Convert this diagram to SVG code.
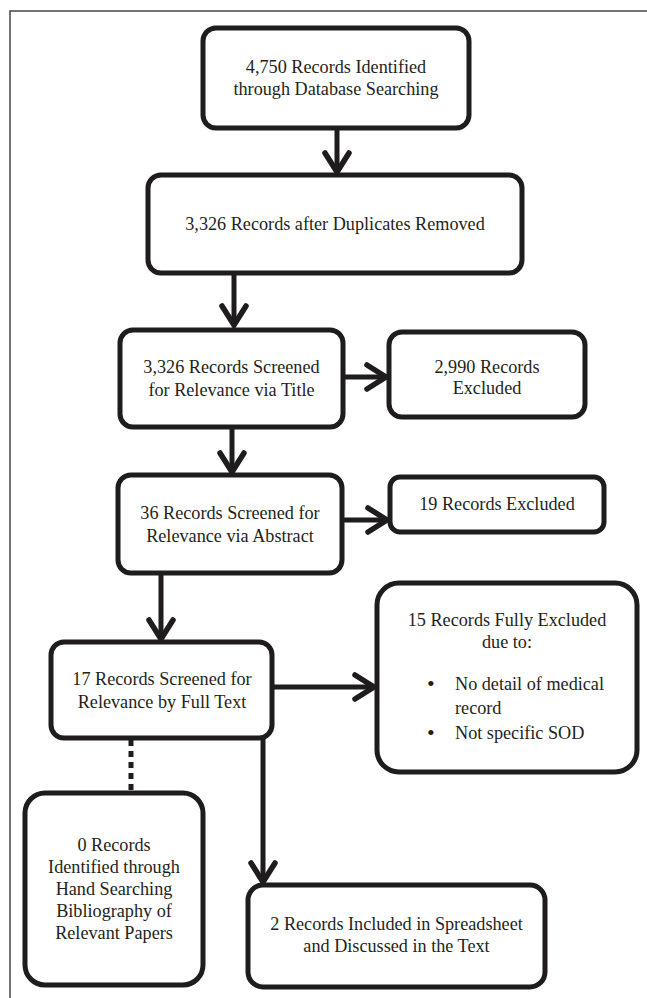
<svg xmlns="http://www.w3.org/2000/svg" width="647" height="998" viewBox="0 0 647 998">
<defs>
<marker id="chev" markerUnits="userSpaceOnUse" markerWidth="40" markerHeight="40" viewBox="-30 -20 40 40" refX="0" refY="0" orient="auto">
<path d="M-19,-12 L0,0 L-19,12" fill="none" stroke="#1f1c1d" stroke-width="5.5" stroke-linecap="round" stroke-linejoin="miter"/>
</marker>
<style>
.box{fill:#fff;stroke:#1f1c1d;stroke-width:5}
text{font-family:'Liberation Serif','Tinos','DejaVu Serif','Times New Roman',serif;font-size:18.2px;fill:#231f20}
.t{text-anchor:middle}
.b{font-size:22px}
.c{stroke:#1f1c1d;stroke-width:5;fill:none}
.frame{stroke:#444;stroke-width:1.5;fill:none}
</style>
</defs>
<path class="frame" d="M10,998 L10,11 L647,11"/>
<g id="connectors">
<line class="c" x1="337" y1="128" x2="337" y2="172" marker-end="url(#chev)"/>
<line class="c" x1="234" y1="273" x2="234" y2="325" marker-end="url(#chev)"/>
<line class="c" x1="343" y1="377" x2="386" y2="377" marker-end="url(#chev)"/>
<line class="c" x1="232" y1="427" x2="232" y2="472" marker-end="url(#chev)"/>
<line class="c" x1="342" y1="520" x2="387" y2="520" marker-end="url(#chev)"/>
<line class="c" x1="161" y1="573" x2="161" y2="639" marker-end="url(#chev)"/>
<line class="c" x1="272" y1="687" x2="374" y2="687" marker-end="url(#chev)"/>
<line class="c" x1="263" y1="738" x2="263" y2="882" marker-end="url(#chev)"/>
<line class="c" x1="131" y1="740" x2="131" y2="793" stroke-dasharray="6 5"/>
</g>
<g id="n1">
<rect class="box" x="203" y="28" width="266" height="100" rx="13"/>
<text class="t" x="336" y="73" font-family="Liberation Serif">4,750 Records Identified</text>
<text class="t" x="336" y="95" font-family="Liberation Serif">through Database Searching</text>
</g>
<g id="n2">
<rect class="box" x="148" y="175" width="374" height="98" rx="13"/>
<text class="t" x="335" y="230">3,326 Records after Duplicates Removed</text>
</g>
<g id="n3">
<rect class="box" x="120" y="330" width="223" height="97" rx="13"/>
<text class="t" x="231.5" y="373">3,326 Records Screened</text>
<text class="t" x="231.5" y="396">for Relevance via Title</text>
</g>
<g id="n4">
<rect class="box" x="389" y="332" width="196" height="85" rx="13"/>
<text class="t" x="487" y="373">2,990 Records</text>
<text class="t" x="487" y="394">Excluded</text>
</g>
<g id="n5">
<rect class="box" x="118" y="475" width="224" height="98" rx="13"/>
<text class="t" x="230" y="519">36 Records Screened for</text>
<text class="t" x="230" y="542">Relevance via Abstract</text>
</g>
<g id="n6">
<rect class="box" x="390" y="477" width="214" height="55" rx="10"/>
<text class="t" x="497" y="510">19 Records Excluded</text>
</g>
<g id="n7">
<rect class="box" x="51" y="642" width="221" height="96" rx="13"/>
<text class="t" x="162" y="685">17 Records Screened for</text>
<text class="t" x="162" y="708">Relevance by Full Text</text>
</g>
<g id="n8">
<rect class="box" x="377" y="583" width="260" height="189" rx="22"/>
<text class="t" x="507" y="626">15 Records Fully Excluded</text>
<text class="t" x="507" y="648">due to:</text>
<text class="b" x="427" y="691">•</text>
<text x="455" y="690">No detail of medical</text>
<text x="455" y="714">record</text>
<text class="b" x="427" y="740">•</text>
<text x="455" y="739">Not specific SOD</text>
</g>
<g id="n9">
<rect class="box" x="25" y="793" width="178" height="192" rx="20"/>
<text class="t" x="114" y="851">0 Records</text>
<text class="t" x="114" y="873">Identified through</text>
<text class="t" x="114" y="895">Hand Searching</text>
<text class="t" x="114" y="917">Bibliography of</text>
<text class="t" x="114" y="939">Relevant Papers</text>
</g>
<g id="n10">
<rect class="box" x="248" y="885" width="297" height="102" rx="15"/>
<text class="t" x="396.5" y="930">2 Records Included in Spreadsheet</text>
<text class="t" x="396.5" y="952">and Discussed in the Text</text>
</g>
</svg>
